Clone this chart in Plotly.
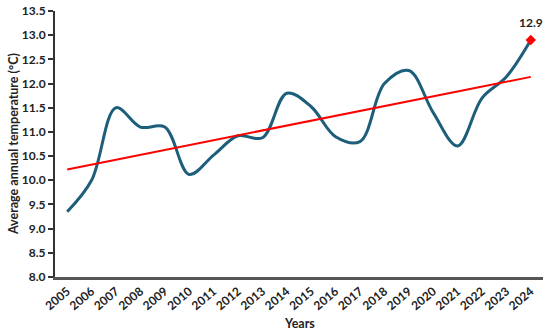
import numpy as np
import plotly.graph_objects as go

years = list(range(2005, 2025))
temps = [9.35, 10.0, 11.5, 11.1, 11.1, 10.12, 10.52, 10.92, 10.88, 11.8,
         11.52, 10.9, 10.8, 12.0, 12.27, 11.4, 10.71, 11.7, 12.14, 12.9]
year_labels = [str(y) for y in years]
last_label = "12.9"

slope, intercept = np.polyfit(years, temps, 1)
trend = [slope * y + intercept for y in years]

font = "Lato, 'Open Sans', sans-serif"

fig = go.Figure()
fig.add_trace(go.Scatter(
    x=years, y=temps, mode="lines",
    line=dict(color="#1D5E7A", width=3, shape="spline", smoothing=1.0),
    showlegend=False, hoverinfo="skip"))
fig.add_trace(go.Scatter(
    x=years, y=trend, mode="lines",
    line=dict(color="#FF0000", width=2),
    showlegend=False, hoverinfo="skip"))
fig.add_trace(go.Scatter(
    x=[years[-1]], y=[temps[-1]], mode="markers",
    marker=dict(symbol="diamond", color="#FF0000", size=8),
    cliponaxis=False, showlegend=False, hoverinfo="skip"))

fig.add_annotation(
    x=years[-1], y=temps[-1], text="<b>" + last_label + "</b>",
    showarrow=False, yanchor="bottom", yshift=8,
    font=dict(family=font, size=12, color="#222222"))

fig.add_annotation(
    xref="paper", yref="paper", x=0.5, y=-0.175, text="<b>Years</b>",
    showarrow=False, xanchor="center", yanchor="middle",
    font=dict(family=font, size=12.5, color="#222222"))

fig.add_annotation(
    xref="paper", yref="paper", x=-0.086, y=0.5,
    text="<b>Average annual temperature (°C)</b>", textangle=-90,
    showarrow=False, xanchor="center", yanchor="middle",
    font=dict(family=font, size=12.5, color="#222222"))

fig.update_layout(
    width=550, height=333,
    margin=dict(l=55, r=7, t=11, b=56, autoexpand=False),
    paper_bgcolor="white", plot_bgcolor="white",
    font=dict(family=font, color="#222222"),
    xaxis=dict(
        range=[2004.5, 2024.5], tickvals=years, ticktext=year_labels,
        tickangle=-40, showgrid=False, zeroline=False, automargin=False,
        showline=True, linecolor="#555555", linewidth=2.5, ticks="",
        tickfont=dict(family=font, size=12, color="#222222", weight="bold"),
    ),
    yaxis=dict(
        range=[8, 13.5], dtick=0.5, tickformat=".1f", automargin=False,
        showgrid=False, zeroline=False,
        showline=True, linecolor="#333333", linewidth=2,
        ticks="outside", ticklen=5, tickwidth=1.5, tickcolor="#333333",
        tickfont=dict(family=font, size=12, color="#222222", weight="bold"),
    ),
)

fig.write_html("out.html", config={"displayModeBar": False},
               post_script="document.body.style.margin='0';document.body.style.overflow='hidden';")
